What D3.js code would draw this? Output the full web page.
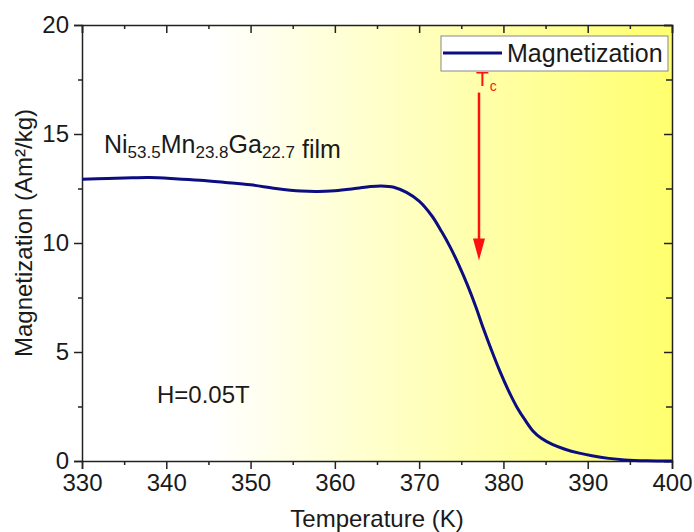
<!DOCTYPE html>
<html>
<head>
<meta charset="utf-8">
<script src="https://cdn.jsdelivr.net/npm/d3@7"></script>
<style>
    body { margin: 0; background: #fff; }
    text { font-family: Arial, "Liberation Sans", sans-serif; fill: #1a1a1a; }
</style>
</head>
<body>
<div id="chart"></div>
<script>
// temperature (K) and magnetization (Am2/kg)
var temps = [330, 333, 336, 338, 341, 344, 347, 350, 353, 356, 358, 360, 362, 364, 365.5,
    367, 368.5, 370, 371.5, 372.7, 373.7, 374.7, 375.7, 376.7, 377.6, 378.6, 379.6, 380.6,
    381.6, 382.6, 383.5, 384.5, 385.8, 387.3, 389, 390.5, 392.5, 394.4, 397, 400];
var magnetization = [12.93, 12.96, 12.99, 13.0, 12.95, 12.88, 12.78, 12.67, 12.5, 12.38, 12.36, 12.4, 12.48, 12.58, 12.62,
    12.56, 12.32, 11.92, 11.25, 10.5, 9.8, 9.0, 8.1, 7.1, 6.1, 5.07, 4.1, 3.23,
    2.47, 1.86, 1.38, 1.04, 0.76, 0.54, 0.36, 0.24, 0.12, 0.05, 0.01, 0.0];

var xTicks = [330, 340, 350, 360, 370, 380, 390, 400];
var xMinorTicks = [335, 345, 355, 365, 375, 385, 395];
var yTicks = [0, 5, 10, 15, 20];
var yMinorTicks = [2.5, 7.5, 12.5, 17.5];

var tcTemp = 377.1;       // Curie temperature arrow
var tcFrom = 16.9, tcTo = 9.2;

var seriesName = "Magnetization";

var margin = { left: 82, right: 22, top: 25, bottom: 71 };
var width = 694 - margin.left - margin.right;
var height = 532 - margin.top - margin.bottom;

var svg = d3.select("#chart")
    .append("svg")
    .attr("width", 694)
    .attr("height", 532);

// white -> yellow background
var grad = svg.append("defs").append("linearGradient")
    .attr("id", "bg")
    .attr("x1", 0).attr("x2", 1).attr("y1", 0).attr("y2", 0);
grad.append("stop").attr("offset", 0).attr("stop-color", "#ffffff");
grad.append("stop").attr("offset", 0.22).attr("stop-color", "#ffffff");
grad.append("stop").attr("offset", 1).attr("stop-color", "#ffff6e");

var g = svg.append("g")
    .attr("transform", "translate(" + margin.left + "," + margin.top + ")");

g.append("rect")
    .attr("width", width)
    .attr("height", height)
    .attr("fill", "url(#bg)");

// Scales
var x = d3.scaleLinear().domain([330, 400]).range([0, width]);
var y = d3.scaleLinear().domain([0, 20]).range([height, 0]);

// Axes (bottom/left outward, top/right inward without labels)
function styleAxis(sel) {
    sel.select(".domain").attr("stroke", "#222").attr("stroke-width", 1.5);
    sel.selectAll(".tick line").attr("stroke", "#222").attr("stroke-width", 1.5);
    sel.selectAll(".tick text").attr("font-size", "24px").attr("fill", "#1a1a1a");
}

var xAxis = g.append("g")
    .attr("transform", "translate(0," + height + ")")
    .call(d3.axisBottom(x).tickValues(xTicks).tickSize(8).tickPadding(5).tickFormat(d3.format("d")));
styleAxis(xAxis);
g.append("g")
    .attr("transform", "translate(0," + height + ")")
    .call(d3.axisBottom(x).tickValues(xMinorTicks).tickSize(4).tickFormat(""))
    .call(styleAxis)
    .select(".domain").remove();

var yAxis = g.append("g")
    .call(d3.axisLeft(y).tickValues(yTicks).tickSize(8).tickPadding(5));
styleAxis(yAxis);
g.append("g")
    .call(d3.axisLeft(y).tickValues(yMinorTicks).tickSize(4).tickFormat(""))
    .call(styleAxis)
    .select(".domain").remove();

g.append("g")
    .call(d3.axisTop(x).tickValues(xTicks).tickSize(-8).tickFormat(""))
    .call(styleAxis);
g.append("g")
    .call(d3.axisTop(x).tickValues(xMinorTicks).tickSize(-4).tickFormat(""))
    .call(styleAxis)
    .select(".domain").remove();

g.append("g")
    .attr("transform", "translate(" + width + ",0)")
    .call(d3.axisRight(y).tickValues(yTicks).tickSize(-8).tickFormat(""))
    .call(styleAxis);
g.append("g")
    .attr("transform", "translate(" + width + ",0)")
    .call(d3.axisRight(y).tickValues(yMinorTicks).tickSize(-6).tickFormat(""))
    .call(styleAxis)
    .select(".domain").remove();

// Axis labels
g.append("text")
    .attr("x", width / 2)
    .attr("y", height + 66)
    .attr("text-anchor", "middle")
    .attr("font-size", "24px")
    .text("Temperature (K)");
g.append("text")
    .attr("transform", "rotate(-90)")
    .attr("x", -208)
    .attr("y", -50)
    .attr("text-anchor", "middle")
    .attr("font-size", "24px")
    .text("Magnetization (Am²/kg)");

// Curve
var points = temps.map(function(t, i){ return { t: t, m: magnetization[i] }; });
var line = d3.line()
    .x(function(d){ return x(d.t); })
    .y(function(d){ return y(d.m); })
    .curve(d3.curveCatmullRom.alpha(0.5));
g.append("path")
    .attr("d", line(points))
    .attr("fill", "none")
    .attr("stroke", "#0d0d82")
    .attr("stroke-width", 3);

// Sample label with subscripts
var sample = g.append("text")
    .attr("x", 22)
    .attr("y", 128)
    .attr("font-size", "25px");
[["Ni", "53.5"], ["Mn", "23.8"], ["Ga", "22.7"]].forEach(function(p, i){
    sample.append("tspan").attr("dy", i === 0 ? 0 : -5).text(p[0]);
    sample.append("tspan").attr("font-size", "17px").attr("dy", 5).text(p[1]);
});
sample.append("tspan").text(" film");

g.append("text")
    .attr("x", 75)
    .attr("y", 378)
    .attr("font-size", "24px")
    .text("H=0.05T");

// Tc arrow
g.append("line")
    .attr("x1", x(tcTemp)).attr("x2", x(tcTemp))
    .attr("y1", y(tcFrom)).attr("y2", y(tcTo) - 20)
    .attr("stroke", "#ff1010")
    .attr("stroke-width", 2.5);
g.append("path")
    .attr("d", "M" + (x(tcTemp) - 6) + "," + (y(tcTo) - 22) + "L" + (x(tcTemp) + 6) + "," + (y(tcTo) - 22) +
        "L" + x(tcTemp) + "," + y(tcTo) + "Z")
    .attr("fill", "#ff1010");
var tc = g.append("text")
    .attr("x", x(tcTemp) - 3)
    .attr("y", y(tcFrom) - 7)
    .attr("font-size", "21px")
    .style("fill", "#ff1010");
tc.append("tspan").text("T");
tc.append("tspan").attr("font-size", "14px").attr("dx", 1).attr("dy", 5).text("c");

// Legend
var legend = g.append("g")
    .attr("transform", "translate(" + (width - 231) + ",11)");
legend.append("rect")
    .attr("width", 227)
    .attr("height", 35)
    .attr("fill", "#fff")
    .attr("stroke", "#888")
    .attr("stroke-width", 1);
legend.append("line")
    .attr("x1", 2).attr("x2", 61)
    .attr("y1", 17).attr("y2", 17)
    .attr("stroke", "#0d0d82")
    .attr("stroke-width", 3);
legend.append("text")
    .attr("x", 66)
    .attr("y", 26)
    .attr("font-size", "25px")
    .text(seriesName);
</script>
</body>
</html>
